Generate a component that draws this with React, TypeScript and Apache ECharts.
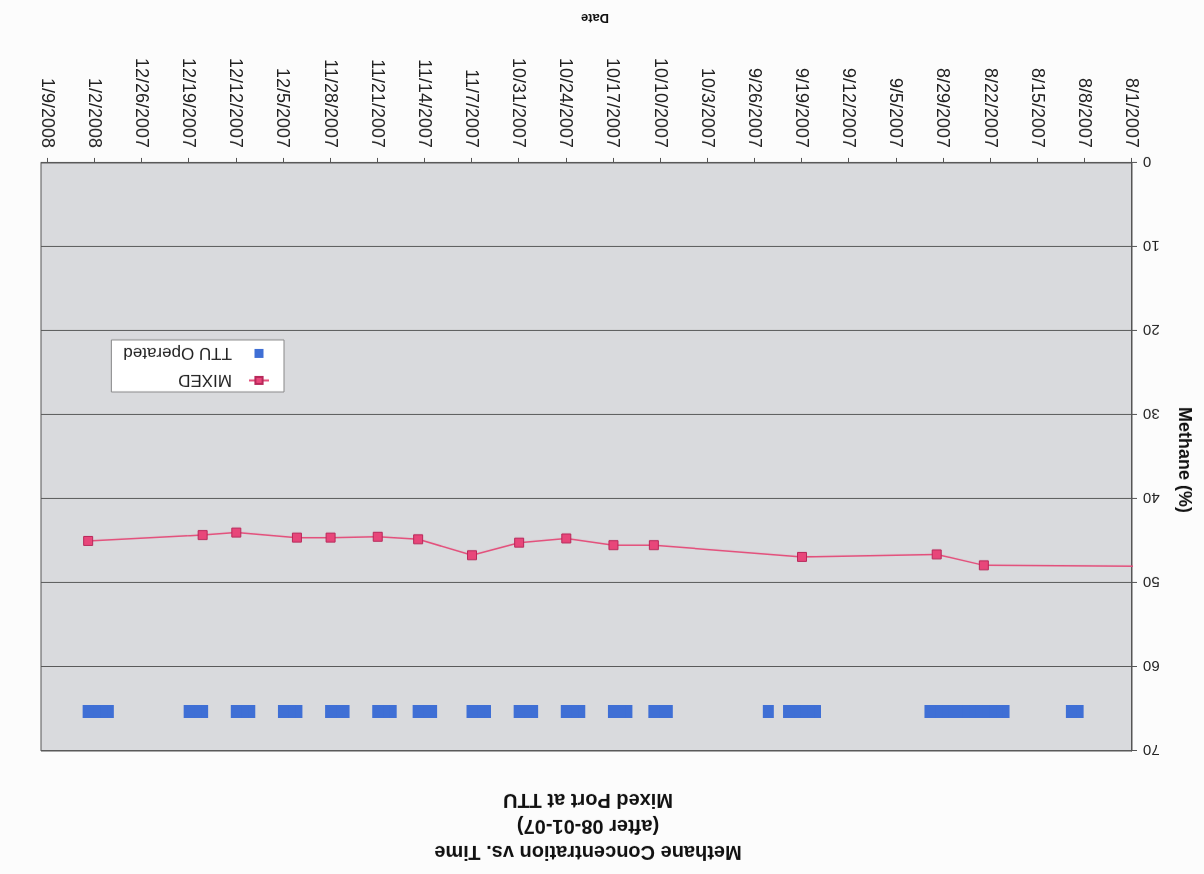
import React, { useEffect, useRef } from "react";
import * as echarts from "echarts";

// ---- data ----
const tickLabels = [
  "8/1/2007", "8/8/2007", "8/15/2007", "8/22/2007", "8/29/2007", "9/5/2007",
  "9/12/2007", "9/19/2007", "9/26/2007", "10/3/2007", "10/10/2007", "10/17/2007",
  "10/24/2007", "10/31/2007", "11/7/2007", "11/14/2007", "11/21/2007", "11/28/2007",
  "12/5/2007", "12/12/2007", "12/19/2007", "12/26/2007", "1/2/2008", "1/9/2008",
];
const axisMinDate = "8/1/2007";
const axisMaxDate = "1/10/2008";

const mixedDates = [
  "7/25/2007", "8/23/2007", "8/30/2007", "9/19/2007", "10/11/2007", "10/17/2007",
  "10/24/2007", "10/31/2007", "11/7/2007", "11/15/2007", "11/21/2007", "11/28/2007",
  "12/3/2007", "12/12/2007", "12/17/2007", "1/3/2008",
];
const mixedValues = [
  48.05, 47.9, 46.6, 46.9, 45.5, 45.5,
  44.7, 45.2, 46.7, 44.8, 44.5, 44.6,
  44.6, 44.0, 44.3, 45.0,
];

const ttuDates = [
  "8/9/2007", "8/10/2007",
  "8/20/2007", "8/21/2007", "8/22/2007", "8/23/2007", "8/24/2007", "8/25/2007",
  "8/26/2007", "8/27/2007", "8/28/2007", "8/29/2007", "8/30/2007", "8/31/2007",
  "9/17/2007", "9/18/2007", "9/19/2007", "9/20/2007", "9/21/2007",
  "9/24/2007",
  "10/9/2007", "10/10/2007", "10/11/2007",
  "10/15/2007", "10/16/2007", "10/17/2007",
  "10/22/2007", "10/23/2007", "10/24/2007",
  "10/29/2007", "10/30/2007", "10/31/2007",
  "11/5/2007", "11/6/2007", "11/7/2007",
  "11/13/2007", "11/14/2007", "11/15/2007",
  "11/19/2007", "11/20/2007", "11/21/2007",
  "11/26/2007", "11/27/2007", "11/28/2007",
  "12/3/2007", "12/4/2007", "12/5/2007",
  "12/10/2007", "12/11/2007", "12/12/2007",
  "12/17/2007", "12/18/2007", "12/19/2007",
  "12/31/2007", "1/1/2008", "1/2/2008", "1/3/2008",
];
const ttuLevel = 65.3;

const FONT = "'Liberation Sans', Arial, sans-serif";

function parseDate(s: string): number {
  const [m, d, y] = s.split("/").map(Number);
  return Date.UTC(y, m - 1, d);
}

export default function App() {
  const ref = useRef<HTMLDivElement>(null);

  useEffect(() => {
    if (!ref.current) return;
    const chart = echarts.init(ref.current, null, { renderer: "svg" });
    const tickVals = tickLabels.map(parseDate);
    const labelOf = (v: number) => {
      const i = tickVals.indexOf(v);
      return i >= 0 ? tickLabels[i] : "";
    };

    const mixedData = mixedDates.map((d, i) => {
      const x = parseDate(d);
      const item: any = { value: [x, mixedValues[i]] };
      if (x < parseDate(axisMinDate)) item.symbol = "none";
      return item;
    });
    const ttuData = ttuDates.map((d) => [parseDate(d), ttuLevel]);

    chart.setOption({
      animation: false,
      backgroundColor: "#fcfcfc",
      grid: {
        left: 72,
        top: 123,
        width: 1091,
        height: 588,
        show: true,
        backgroundColor: "#d9dadd",
        borderColor: "#555",
        borderWidth: 1,
      },
      xAxis: {
        type: "value",
        min: parseDate(axisMinDate),
        max: parseDate(axisMaxDate),
        axisLine: { show: true, lineStyle: { color: "#555", width: 1 } },
        axisTick: {
          show: true,
          customValues: tickVals,
          length: 5,
          lineStyle: { color: "#555" },
        },
        axisLabel: {
          customValues: tickVals,
          rotate: 90,
          margin: 15,
          fontSize: 18,
          color: "#222",
          fontFamily: FONT,
          formatter: (v: number) => labelOf(v),
        },
        splitLine: { show: false },
      },
      yAxis: {
        type: "value",
        min: 0,
        max: 70,
        interval: 10,
        axisLine: { show: true, lineStyle: { color: "#555", width: 1 } },
        axisTick: { show: true, length: 5, lineStyle: { color: "#555" } },
        axisLabel: { margin: 11, fontSize: 15, color: "#222", fontFamily: FONT },
        splitLine: { show: true, lineStyle: { color: "#5a5a5a", width: 1 } },
      },
      legend: {
        left: 920,
        top: 482,
        orient: "vertical",
        backgroundColor: "#ffffff",
        borderColor: "#888",
        borderWidth: 1,
        padding: [3, 12, 5, 14],
        itemGap: 10,
        itemWidth: 20,
        itemHeight: 9,
        textStyle: {
          fontSize: 17,
          color: "#222",
          fontFamily: FONT,
          padding: [0, 0, 0, 12],
        },
        data: [
          { name: "MIXED" },
          { name: "TTU Operated", icon: "path://M0,0L10,0L10,10L0,10Z" },
        ],
      },
      graphic: [
        {
          type: "text",
          x: 616,
          y: 21,
          style: {
            text: "Methane Concentration vs. Time",
            font: `bold 20px ${FONT}`,
            fill: "#111",
            align: "center",
            verticalAlign: "middle",
          },
        },
        {
          type: "text",
          x: 616,
          y: 47,
          style: {
            text: "(after 08-01-07)",
            font: `bold 20px ${FONT}`,
            fill: "#111",
            align: "center",
            verticalAlign: "middle",
          },
        },
        {
          type: "text",
          x: 616,
          y: 73,
          style: {
            text: "Mixed Port at TTU",
            font: `bold 20px ${FONT}`,
            fill: "#111",
            align: "center",
            verticalAlign: "middle",
          },
        },
        {
          type: "text",
          x: 609,
          y: 855,
          style: {
            text: "Date",
            font: `bold 13px ${FONT}`,
            fill: "#111",
            align: "center",
            verticalAlign: "middle",
          },
        },
        {
          type: "text",
          x: 19,
          y: 414,
          rotation: Math.PI / 2,
          style: {
            text: "Methane (%)",
            font: `bold 18px ${FONT}`,
            fill: "#111",
            align: "center",
            verticalAlign: "middle",
          },
        },
      ],
      series: [
        {
          name: "MIXED",
          type: "line",
          data: mixedData,
          clip: true,
          symbol: "rect",
          symbolSize: 9,
          lineStyle: { color: "#e44c79", width: 1.5 },
          itemStyle: { color: "#e8467a", borderColor: "#b8285a", borderWidth: 1 },
        },
        {
          name: "TTU Operated",
          type: "scatter",
          data: ttuData,
          symbol: "rect",
          symbolSize: [11, 13],
          itemStyle: { color: "#3f6fd5", opacity: 1 },
        },
      ],
    });
    return () => chart.dispose();
  }, []);

  return (
    <div
      style={{
        position: "fixed",
        left: 0,
        top: 0,
        width: 1204,
        height: 874,
        transform: "rotate(180deg)",
        background: "#fcfcfc",
      }}
    >
      <div ref={ref} style={{ width: 1204, height: 874 }} />
    </div>
  );
}
